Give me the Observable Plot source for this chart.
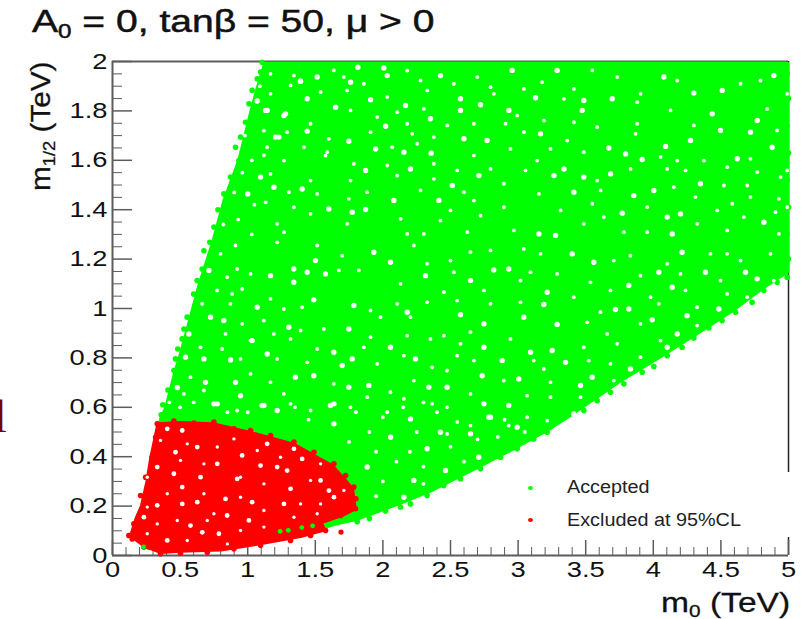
<!DOCTYPE html>
<html><head><meta charset="utf-8">
<script src="https://cdn.jsdelivr.net/npm/d3@7"></script>
<script src="https://cdn.jsdelivr.net/npm/@observablehq/plot@0.6"></script>
<style>
html,body{margin:0;padding:0;background:#fff;overflow:hidden}
#wrap{position:relative;width:810px;height:619px;overflow:hidden;font-family:"Liberation Sans",sans-serif;color:#111}
#wrap svg{position:absolute;left:0;top:0}
.t{position:absolute;white-space:nowrap;line-height:1;transform-origin:0 0}
.t sub{font-size:62%;vertical-align:baseline;position:relative;top:.28em}
.dot{position:absolute;width:5px;height:4px;border-radius:50%}
</style></head><body><div id="wrap"></div>
<script>
const xMajor=[0,0.5,1,1.5,2,2.5,3,3.5,4,4.5,5];
const xMinor=[0.1,0.2,0.3,0.4,0.6,0.7,0.8,0.9,1.1,1.2,1.3,1.4,1.6,1.7,1.8,1.9,2.1,2.2,2.3,2.4,2.6,2.7,2.8,2.9,3.1,3.2,3.3,3.4,3.6,3.7,3.8,3.9,4.1,4.2,4.3,4.4,4.6,4.7,4.8,4.9];
const yMajor=[0,0.2,0.4,0.6,0.8,1,1.2,1.4,1.6,1.8,2];
const yMinor=[0.05,0.1,0.15,0.25,0.3,0.35,0.45,0.5,0.55,0.65,0.7,0.75,0.85,0.9,0.95,1.05,1.1,1.15,1.25,1.3,1.35,1.45,1.5,1.55,1.65,1.7,1.75,1.85,1.9,1.95];
const rightSpine=[[0,0.073],[0.336,2]];

// Interior of the accepted scan region (slightly inside the edge points)
const acceptedOutline=[[1.13,1.99],[2,1.99],[3,1.99],[4,1.99],[4.99,1.99],[4.99,1.15],[4.82,1.09],[4.6,1.0],[4.32,0.9],[4.03,0.8],[3.757,0.71],[3.412,0.58],[3.215,0.51],[3,0.445],[2.72,0.365],[2.375,0.27],[2.13,0.215],[1.81,0.15],[1.65,0.13],[1.4,0.09],[0.27,0.03],[0.15,0.08],[0.22,0.2],[0.27,0.3],[0.3,0.4],[0.36,0.55],[0.4,0.6],[0.47,0.75],[0.5,0.8],[0.555,0.911],[0.64,1.085],[0.75,1.275],[0.83,1.437],[0.94,1.6],[1.03,1.8],[1.08,1.9]];
// Outermost points seen along the edge of the accepted region
const acceptedEdge=[[0.72,1.268],[0.676,1.234],[0.663,1.16],[0.626,1.113],[0.6,1.059],[0.552,0.965],[0.528,0.917],[0.515,0.877],[0.483,0.836],[0.466,0.796],[0.454,0.749],[0.41,0.67],[0.372,0.61],[0.36,0.57],
[4.99,1.127],[4.916,1.106],[4.818,1.073],[4.731,1.025],[4.608,0.985],[4.509,0.951],[4.411,0.921],[4.3,0.881],[4.213,0.843],[4.103,0.809],[4.004,0.765],[3.918,0.742],[3.782,0.695],[3.683,0.661],[3.585,0.627],[3.486,0.587],[3.326,0.553],[3.215,0.499],
[3.116,0.472],[2.993,0.432],[2.87,0.398],[2.722,0.351],[2.574,0.31],[2.45,0.283],[2.327,0.243],[2.204,0.209],[2.13,0.196],[2.02,0.18],[1.9,0.15],[1.81,0.137],
[1.107,1.997],[1.095,1.957],[1.07,1.93],[1.033,1.883],[1.009,1.829],[0.984,1.754],[0.947,1.694],[0.91,1.653],[0.935,1.599],[0.873,1.532],[0.824,1.464],[0.78,1.4],[0.75,1.33],
[5,1.2],[4.99,1.3],[5,1.41],[4.99,1.52],[5,1.63],[4.99,1.74],[5,1.85],[4.99,1.95]];
// Interior of the excluded region
const excludedOutline=[[0.34,0.53],[0.5,0.535],[0.75,0.53],[1.02,0.495],[1.34,0.448],[1.625,0.36],[1.77,0.27],[1.79,0.19],[1.7,0.165],[1.54,0.135],[1.56,0.105],[1.39,0.08],[1.09,0.05],[0.8,0.025],[0.5,0.02],[0.36,0.015],[0.24,0.04],[0.14,0.08],[0.18,0.15],[0.22,0.2],[0.26,0.3],[0.29,0.4]];
// Outermost points seen along the edge of the excluded region
const excludedEdge=[[0.331,0.533],[0.454,0.544],[0.602,0.536],[0.75,0.54],[0.898,0.513],[1.021,0.506],[1.169,0.486],[1.342,0.459],[1.49,0.418],[1.638,0.371],[1.724,0.324],[1.785,0.277],[1.8,0.23],[1.798,0.189],[1.687,0.162],[1.539,0.135],[1.576,0.101],[1.465,0.081],[1.317,0.061],[1.095,0.041],[0.898,0.027],[0.701,0.013],[0.503,0.009],[0.355,0.007],[0.232,0.034],[0.146,0.067],[0.121,0.081],[0.158,0.128],[0.22,0.189],[0.208,0.243],[0.245,0.317],[0.294,0.398],[0.319,0.479]];
// Green points lying on the excluded region
const acceptedOnTop=[[1.24,0.098],[1.3,0.102],[1.4,0.113],[1.48,0.12],[0.23,0.035]];
const excludedStray=[[1.69,0.095]];
// Largest white gaps between scan points
const acceptedGaps=[[1.815,1.977],[2.007,1.974],[1.391,1.92],[1.761,1.916],[1.909,1.845],[1.132,1.802],[1.268,1.781],[1.44,1.718],[1.748,1.677],[1.946,1.646],[2.167,1.822],[2.574,1.849],[2.722,1.825],[2.599,1.687],[2.771,1.68],[2.204,1.565],[1.872,1.559],[1.403,1.484],[1.194,1.491],[1.6,1.403],[1.872,1.401],[1.773,1.39],[2.513,1.498],[2.081,1.437],[2.414,1.437],[2.71,1.538],[1.231,1.694],[2.02,1.738],[2.155,1.633],[2.357,1.629],[2.574,1.802],[2.932,1.802],[2.426,1.943],[2.956,1.964],[2.032,1.943],[1.514,1.937],[1.65,1.815],[1.44,1.849],[2.352,1.768],
[3.289,1.964],[4.078,1.937],[4.892,1.943],[3.129,1.853],[3.696,1.849],[3.486,1.842],[3.474,1.802],[4.769,1.761],[4.497,1.721],[3.166,1.707],[4.719,1.714],[3.671,1.65],[3.795,1.626],[3.918,1.603],[4.091,1.656],[4.275,1.68],[4.879,1.653],[3.339,1.565],[4.349,1.505],[4.004,1.478],[3.856,1.457],[3.265,1.538],[3.486,1.532],[3.77,1.386],[4.103,1.37],[4.201,1.383],[3.277,1.296],[3.154,1.302],[4.14,1.302],[4.818,1.349],[4.621,1.606],[4.436,1.788],[3.413,1.471],[3.684,1.545],[4.51,1.883],[4.3,1.872],
[0.713,1.154],[1.341,1.16],[1.44,1.147],[1.575,1.14],[1.501,1.194],[2.315,1.133],[1.341,1.106],[1.489,1.035],[1.785,1.012],[1.07,1.005],[1.748,0.917],[1.304,0.924],[0.725,0.965],[0.565,0.897],[0.873,0.792],[0.676,0.796],[0.54,0.803],[0.823,0.951],[1.773,0.796],[2.241,0.796],[2.056,0.843],[1.489,0.728],[1.637,0.823],[1.699,0.769],[0.688,0.701],[0.91,0.701],[1.353,0.722],[1.896,0.688],[2.34,0.681],[1.748,0.681],[0.947,0.647],[1.107,0.607],[1.612,0.607],[0.774,0.614],[2.18,0.985],[1.933,1.228],[1.169,1.133],[2.056,1.187],[1.144,0.816],[1.033,0.87],
[3.289,0.935],[2.747,0.843],[4.213,1.228],[4.041,1.147],[4.14,1.086],[4.386,1.147],[2.931,1.16],[2.82,1.156],[3.215,1.066],[3.19,1.016],[3.042,0.965],[2.747,0.938],[2.574,0.975],[3.992,0.954],[3.819,0.998],[3.72,0.996],[3.005,0.715],[2.734,0.728],[3.252,0.83],[3.351,0.782],[3.548,0.722],[3.462,0.688],[4.103,0.843],[2.747,0.614],[2.931,0.607],[2.784,0.56],[2.475,0.681],[3.412,0.573],[3.831,0.755],[4.768,1.12],[4.682,1.147],[4.485,0.998],[4.25,0.971],[3.56,1.187],[3.4,1.221],[2.648,1.113],[3.819,1.093],[3.092,0.823],[2.882,0.789],[4.177,0.897],
[1.144,1.802],[1.28,1.788],[1.206,1.694],[1,1.464],[1.095,1.532],[1.07,1.84],[1.39,1.92],[2.426,0.499],[2.648,0.493],[2.709,0.398],[2.796,0.56],[2.327,0.432],[2.463,0.344],[2.204,0.553],[2.229,0.304],[2.155,0.236],[2.993,0.519],[1.884,0.358],[2.057,0.479],[1.638,0.533],[1.218,0.587],[1.638,0.614],[1.12,0.607],[0.75,0.614],[0.479,0.68]];
// Smaller white gaps between scan points
const acceptedSmallGaps=[[1.169,1.95],[1.342,1.943],[1.637,1.964],[1.711,1.937],[1.859,1.91],[2.18,1.963],[2.278,1.923],[2.525,1.91],[2.698,1.937],[2.796,1.896],[3.043,1.889],[1.169,1.869],[1.317,1.903],[1.539,1.876],[1.736,1.883],[2.032,1.856],[2.328,1.883],[2.821,1.869],[1.761,1.802],[2.106,1.795],[2.303,1.808],[2.993,1.781],[1.465,1.748],[1.958,1.775],[2.18,1.748],[2.476,1.741],[2.673,1.748],[2.907,1.748],[1.292,1.714],[1.6,1.687],[1.909,1.714],[2.217,1.707],[2.377,1.694],[3.043,1.714],[1.144,1.653],[1.416,1.653],[1.588,1.633],[2.069,1.653],[2.254,1.667],[2.673,1.619],[2.944,1.646],[1.268,1.599],[1.576,1.619],[1.785,1.586],[2.032,1.579],[2.377,1.586],[2.55,1.559],[2.796,1.565],[3.055,1.559],[1.169,1.545],[1.465,1.518],[1.761,1.518],[2.106,1.538],[2.377,1.525],[2.895,1.505],[1.305,1.471],[1.884,1.471],[2.278,1.478],[2.599,1.471],[1.132,1.43],[1.342,1.41],[1.514,1.464],[1.748,1.444],[2.673,1.437],[2.895,1.41],[1.218,1.343],[1.465,1.383],[1.736,1.343],[2.131,1.363],[2.303,1.302],[2.426,1.356],[2.624,1.309],[1.268,1.309],[2.18,1.302],[2.969,1.316],[2.5,1.397],[2.722,1.376],
[3.178,1.916],[3.413,1.889],[3.548,1.964],[3.733,1.937],[3.906,1.869],[4.177,1.923],[4.645,1.91],[4.793,1.923],[4.99,1.869],[3.339,1.849],[3.881,1.835],[4.128,1.802],[4.842,1.808],[3.191,1.761],[3.413,1.754],[3.585,1.734],[3.881,1.748],[4.3,1.741],[4.916,1.721],[3.363,1.68],[3.869,1.707],[3.486,1.633],[3.24,1.646],[4.374,1.599],[4.719,1.606],[4.177,1.599],[3.141,1.599],[4.054,1.613],[4.99,1.559],[3.832,1.565],[4.103,1.565],[4.239,1.559],[4.547,1.572],[4.769,1.552],[3.585,1.518],[4.152,1.491],[4.522,1.498],[4.695,1.498],[4.941,1.532],[3.154,1.464],[3.61,1.478],[4.312,1.451],[4.719,1.451],[4.929,1.444],[3.548,1.424],[3.314,1.397],[3.955,1.41],[4.584,1.424],[4.99,1.41],[3.634,1.37],[4.473,1.397],[4.67,1.37],[4.904,1.39],[3.486,1.343],[3.955,1.309],[4.325,1.343],[4.547,1.316],[4.929,1.302],[3.782,1.309],
[0.799,1.221],[0.91,1.255],[1.218,1.268],[1.514,1.255],[1.699,1.214],[2.229,1.255],[0.922,1.16],[1.021,1.14],[1.674,1.154],[1.822,1.154],[2.13,1.1],[2.327,1.181],[0.848,1.127],[0.774,1.073],[0.959,1.079],[0.885,1.059],[1.169,1.039],[1.403,1.005],[1.908,0.992],[2.106,1.019],[2.327,1.025],[0.663,1.019],[0.873,1.019],[1.267,0.998],[1.563,0.917],[1.391,0.911],[0.959,0.938],[1.119,0.951],[1.982,0.965],[2.204,0.965],[0.836,0.897],[1.193,0.897],[1.908,0.884],[2.18,0.89],[2.352,0.877],[1.021,0.87],[1.317,0.877],[1.514,0.836],[1.859,0.843],[0.811,0.836],[0.651,0.843],[0.947,0.796],[1.218,0.796],[1.44,0.782],[1.958,0.776],[2.155,0.809],[2.364,0.762],[0.577,0.722],[1.021,0.735],[1.169,0.701],[1.637,0.695],[2.056,0.661],[2.229,0.708],[0.528,0.654],[0.676,0.668],[1.267,0.654],[1.884,0.641],[2.155,0.634],[2.364,0.614],[0.922,0.587],[1.317,0.614],[1.465,0.587],[1.76,0.6],[2.032,0.58],
[2.5,1.194],[2.648,1.228],[2.796,1.235],[3.042,1.241],[3.166,1.221],[3.708,1.194],[3.831,1.214],[4.103,1.181],[4.423,1.221],[4.546,1.221],[4.645,1.194],[4.867,1.221],[2.525,1.147],[3.092,1.147],[3.289,1.14],[3.536,1.106],[3.905,1.133],[4.201,1.14],[4.497,1.113],[4.891,1.113],[2.451,1.066],[2.747,1.073],[3.018,1.113],[3.412,1.046],[3.683,1.073],[3.979,1.046],[4.238,1.073],[4.546,1.059],[4.694,1.046],[3.018,1.025],[2.796,1.019],[2.549,1.032],[3.511,0.944],[3.609,0.985],[4.041,1.019],[4.324,1.005],[2.451,0.89],[2.648,0.904],[2.944,0.877],[3.659,0.897],[3.905,0.938],[4.053,0.87],[4.324,0.931],[2.574,0.857],[3.486,0.843],[3.733,0.857],[2.673,0.789],[2.549,0.809],[3.116,0.789],[3.523,0.789],[3.905,0.803],[2.475,0.749],[3.19,0.755],[3.683,0.776],[3.708,0.708],[2.894,0.708],[3.24,0.701],[2.648,0.654],[3.067,0.647],[3.24,0.641],[3.462,0.641],[2.475,0.6],[3.067,0.56],[3.215,0.546],[2.648,0.526],[2.931,0.526],[2.475,0.492],
[0.98,1.7],[1.03,1.6],[0.96,1.55],[0.9,1.47],[1.05,1.42],[0.93,1.36],[0.82,1.34],[1.03,1.3],[1.12,1.72],[1.12,1.62],[1.09,1.9],[2,0.3],[2.1,0.38],[1.95,0.42],[2.2,0.42],[2.3,0.36],[2.25,0.5],[2.4,0.58],[2.5,0.44],[2.6,0.38],[2.55,0.54],[2.7,0.47],[2.85,0.48],[2.9,0.55],[3.05,0.5],[2,0.56],[1.9,0.5],[1.75,0.46],[1.8,0.58],[2.15,0.6],[2.3,0.62],[1.95,0.24],[2.3,0.29],[1.45,0.55],[1.35,0.6],[1,0.58],[0.85,0.58],[0.6,0.62],[0.5,0.6],[0.42,0.62]];
const excludedGaps=[[0.651,0.317],[0.775,0.371],[0.959,0.405],[1.095,0.364],[1.218,0.358],[1.403,0.391],[1.317,0.27],[1.638,0.236],[1.601,0.263],[1.268,0.209],[1.033,0.216],[0.836,0.229],[0.516,0.277],[0.331,0.203],[0.627,0.216],[0.922,0.31],[0.454,0.331],[0.405,0.513],[0.516,0.506],[0.787,0.088],[0.664,0.094],[0.577,0.121],[0.516,0.209],[0.232,0.155],[0.466,0.418],[0.331,0.358],[1.144,0.452],[0.848,0.162],[1.342,0.432],[1.009,0.142],[0.405,0.061],[1.292,0.344],[1.539,0.304],[0.627,0.439]];
const excludedSmallGaps=[[0.355,0.466],[0.553,0.452],[0.775,0.439],[0.898,0.472],[1.071,0.425],[1.243,0.398],[1.539,0.371],[0.503,0.385],[0.676,0.371],[0.257,0.317],[0.947,0.317],[1.12,0.29],[1.465,0.304],[1.711,0.263],[0.405,0.25],[0.676,0.25],[0.947,0.236],[1.391,0.209],[1.539,0.209],[0.257,0.196],[0.75,0.169],[1.12,0.182],[1.514,0.169],[0.331,0.128],[0.479,0.142],[0.701,0.142],[0.947,0.101],[1.12,0.115],[0.257,0.088],[0.553,0.061],[0.85,0.047],[1.342,0.155]];

const GREEN="#00ff00",RED="#ff0000",SPINE="#5c5c5c";
const px=d=>d[0],py=d=>d[1];
const fmt=d=>String(d);
const plot=Plot.plot({
  width:810,height:619,marginLeft:112,marginRight:22,marginTop:61,marginBottom:64,
  style:{background:"transparent",fontFamily:"Liberation Sans",overflow:"visible"},
  x:{domain:[0,5]},y:{domain:[0,2]},
  marks:[
    Plot.ruleX([0],{y1:0,y2:2,stroke:SPINE,strokeWidth:2}),
    Plot.ruleY([0],{x1:0,x2:5,stroke:SPINE,strokeWidth:2}),
    Plot.ruleY([2],{x1:0,x2:5,stroke:SPINE,strokeWidth:2}),
    Plot.ruleX(rightSpine,{x:()=>5,y1:px,y2:py,stroke:"#222",strokeWidth:1.5}),
    Plot.axisX({ticks:xMajor,text:null,label:null,tickSize:-15,stroke:SPINE,strokeWidth:1.5}),
    Plot.axisX({ticks:xMinor,text:null,label:null,tickSize:-8,stroke:SPINE,strokeWidth:1}),
    Plot.axisY({ticks:yMajor,text:null,label:null,tickSize:-20,stroke:SPINE,strokeWidth:1.5}),
    Plot.axisY({ticks:yMinor,text:null,label:null,tickSize:-10,stroke:SPINE,strokeWidth:1}),
    Plot.axisX({ticks:xMajor,tickFormat:fmt,label:null,tickSize:0,tickPadding:6,fontSize:22,fill:"#111"}),
    Plot.axisY({ticks:yMajor,tickFormat:fmt,label:null,tickSize:0,tickPadding:5,fontSize:22,fill:"#111"}),
    Plot.line(acceptedOutline,{x:px,y:py,curve:"linear-closed",fill:GREEN,stroke:GREEN,strokeWidth:4.5,strokeLinejoin:"round"}),
    Plot.dot(acceptedEdge,{x:px,y:py,r:2.8,fill:GREEN}),
    Plot.dot(acceptedGaps,{x:px,y:py,r:2.7,fill:"#fff"}),
    Plot.dot(acceptedSmallGaps,{x:px,y:py,r:1.9,fill:"#fff"}),
    Plot.line(excludedOutline,{x:px,y:py,curve:"linear-closed",fill:RED,stroke:RED,strokeWidth:4.5,strokeLinejoin:"round"}),
    Plot.dot(excludedEdge,{x:px,y:py,r:2.8,fill:RED}),
    Plot.dot(excludedGaps,{x:px,y:py,r:2.4,fill:"#fff"}),
    Plot.dot(excludedSmallGaps,{x:px,y:py,r:1.7,fill:"#fff"}),
    Plot.dot(excludedStray,{x:px,y:py,r:2.6,fill:RED}),
    Plot.dot(acceptedOnTop,{x:px,y:py,r:2.4,fill:GREEN})
  ]
});
const wrap=document.getElementById("wrap");
wrap.appendChild(plot);
plot.querySelectorAll("text").forEach(t=>{
  const s=(t.textContent||"");
  if(!s)return;
  t.setAttribute("textLength",t.getComputedTextLength()*1.24);
  t.setAttribute("lengthAdjust","spacingAndGlyphs");
});
function addText(html,css){const e=document.createElement("div");e.className="t";e.innerHTML=html;e.style.cssText=css;wrap.appendChild(e);return e;}
addText('A<sub>0</sub> = 0, tanβ = 50, μ &gt; 0','left:32px;top:5px;font-size:32px;transform:scaleX(1.22);color:#111;-webkit-text-stroke:.5px #111');
addText('m<sub>1/2</sub> (TeV)','left:27px;top:191px;font-size:28px;transform:rotate(-90deg) scaleX(1.06);color:#111;-webkit-text-stroke:.3px #111');
addText('m<sub>0</sub> (TeV)','left:661px;top:589px;font-size:28px;transform:scaleX(1.2);color:#111;-webkit-text-stroke:.3px #111');
addText('l','left:-6px;top:394px;font-size:46px;font-family:\'Liberation Serif\';color:#7a0000');
const d1=document.createElement("div");d1.className="dot";d1.style.cssText="left:528px;top:486px;background:"+GREEN;wrap.appendChild(d1);
const d2=document.createElement("div");d2.className="dot";d2.style.cssText="left:528px;top:518px;background:"+RED;wrap.appendChild(d2);
addText('Accepted','left:567px;top:478px;font-size:18px;transform:scaleX(1.1);color:#222');
addText('Excluded at 95%CL','left:567px;top:511px;font-size:18px;transform:scaleX(1.1);color:#222');
</script></body></html>
